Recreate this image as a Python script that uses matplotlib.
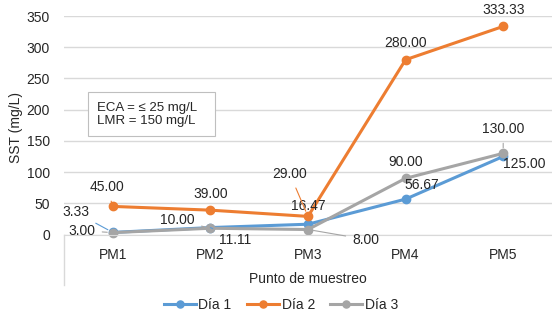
import numpy as np
import matplotlib.pyplot as plt
from matplotlib.lines import Line2D

plt.rcParams['font.family'] = ['Liberation Sans', 'DejaVu Sans']

puntos = ['PM1', 'PM2', 'PM3', 'PM4', 'PM5']
dia1 = [3.33, 11.11, 16.47, 56.67, 125.00]
dia2 = [45.00, 39.00, 29.00, 280.00, 333.33]
dia3 = [3.00, 10.00, 8.00, 90.00, 130.00]

# label offsets in pixels (dx, dy) and whether a leader line is drawn
off1 = [(-37, 20, True), (25, -12, True), (0, 18, False), (16, 14, False), (21, -8, False)]
off2 = [(-6, 19, True), (0, 16, False), (-18, 42, True), (0, 17, False), (0, 16, False)]
off3 = [(-31, 2, True), (-33, 8, True), (58, -10, True), (0, 16, False), (0, 24, True)]

c1, c2, c3 = '#5B9BD5', '#ED7D31', '#A5A5A5'
grid_c = '#D9D9D9'
fs = 10

fig = plt.figure(figsize=(5.52, 3.16), dpi=100)
ax = fig.add_axes([64/552, 81.5/316, 488/552, 218.5/316])
x = np.arange(len(puntos))

for vals, col, offs, lab in [(dia1, c1, off1, 'Día 1'), (dia2, c2, off2, 'Día 2'), (dia3, c3, off3, 'Día 3')]:
    ax.plot(x, vals, color=col, lw=2.2, marker='o', ms=6, label=lab, clip_on=False)
    for xi, v, (dx, dy, lead) in zip(x, vals, offs):
        ap = dict(arrowstyle='-', color=col, lw=0.8, shrinkA=3, shrinkB=4) if lead else None
        ax.annotate(f'{v:.2f}', (xi, v), xytext=(dx, dy), textcoords='offset pixels',
                    ha='center', va='center', fontsize=fs, color='#262626',
                    arrowprops=ap, annotation_clip=False)

ax.set_xlim(-0.5, 4.5)
ax.set_ylim(0, 350)
ax.set_yticks(np.arange(0, 351, 50))
ax.set_xticks(x)
ax.set_xticklabels(puntos)
ax.yaxis.grid(True, color=grid_c, lw=1)
ax.set_axisbelow(True)
for s in ['top', 'right', 'left']:
    ax.spines[s].set_visible(False)
ax.spines['bottom'].set_color(grid_c)
ax.tick_params(axis='both', length=0, labelsize=fs, colors='#262626')
ax.tick_params(axis='x', pad=10)
ax.tick_params(axis='y', pad=10)
ax.set_ylabel('SST (mg/L)', fontsize=fs, color='#262626')
ax.yaxis.set_label_coords(-0.085, 0.49)
ax.set_xlabel('Punto de muestreo', fontsize=fs, color='#262626')
ax.xaxis.set_label_coords(0.5, -0.17)

fig.add_artist(Line2D([64/552, 64/552], [31/316, 81.5/316], color=grid_c, lw=1))

ax.text(0.068, 0.55, 'ECA = ≤ 25 mg/L\nLMR = 150 mg/L   ', transform=ax.transAxes,
        fontsize=9.5, color='#262626', va='center', ha='left', linespacing=1.15,
        bbox=dict(boxstyle='square,pad=0.7', fc='white', ec='#BFBFBF', lw=0.8))

fig.legend(loc='center', bbox_to_anchor=(281/552, 1 - 305/316), ncol=3, frameon=False,
           fontsize=fs, handlelength=2.3, columnspacing=1.1, handletextpad=0.2,
           labelcolor='#262626', markerscale=0.85)

fig.savefig('out.png', dpi=100)
